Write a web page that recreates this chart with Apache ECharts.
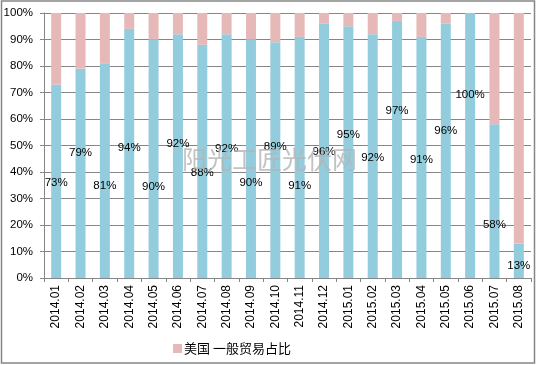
<!DOCTYPE html>
<html>
<head>
<meta charset="utf-8">
<script src="https://cdn.jsdelivr.net/npm/echarts@6/dist/echarts.min.js"></script>
<style>
html,body{margin:0;padding:0;background:#fff;}
#chart{width:536px;height:365px;}
</style>
</head>
<body>
<div id="chart"></div>
<script>
var categories = ['2014.01','2014.02','2014.03','2014.04','2014.05','2014.06','2014.07','2014.08','2014.09','2014.10','2014.11','2014.12','2015.01','2015.02','2015.03','2015.04','2015.05','2015.06','2015.07','2015.08'];
var usShare = [73, 79, 81, 94, 90, 92, 88, 92, 90, 89, 91, 96, 95, 92, 97, 91, 96, 100, 58, 13];
var otherShare = [27, 21, 19, 6, 10, 8, 12, 8, 10, 11, 9, 4, 5, 8, 3, 9, 4, 0, 42, 87];
var yTicks = [0, 10, 20, 30, 40, 50, 60, 70, 80, 90, 100];
var seriesName = '美国 一般贸易占比';
// label nudges (styling, px) reproducing the hand-placed labels of the reference
var labelShift = [2, -20, 15, -6, 28, -12, 11, -7, 24, -13, 28, 1, -17, 2, -39, 2, -20, -51, 24, 5];

var FONT = '"Liberation Sans", Arial, sans-serif';
var CJK = '"Noto Sans CJK SC", sans-serif';
var GRID_COLOR = '#868686';

var blueData = usShare.map(function (v, i) {
  return { value: v, label: { offset: [0, labelShift[i]] } };
});

var chart = echarts.init(document.getElementById('chart'), null, { renderer: 'canvas' });
chart.setOption({
  animation: false,
  backgroundColor: '#fff',
  grid: { left: 44, right: 5, top: 13, bottom: 87, containLabel: false },
  legend: {
    data: [seriesName],
    left: 168,
    top: 337,
    itemWidth: 9,
    itemHeight: 9,
    icon: 'rect',
    textStyle: { fontFamily: CJK, fontSize: 13, color: '#000', padding: [0, 0, 0, -3] }
  },
  xAxis: {
    type: 'category',
    data: categories,
    boundaryGap: true,
    axisLine: { lineStyle: { color: GRID_COLOR, width: 1 } },
    axisTick: { show: true, interval: 0, length: 4, lineStyle: { color: GRID_COLOR } },
    axisLabel: {
      interval: 0, rotate: 90, margin: 7,
      fontFamily: FONT, fontSize: 12, color: '#000'
    },
    splitLine: { show: false }
  },
  yAxis: {
    type: 'value',
    min: yTicks[0],
    max: yTicks[yTicks.length - 1],
    interval: yTicks[1] - yTicks[0],
    axisLine: { show: true, lineStyle: { color: GRID_COLOR, width: 1 } },
    axisTick: { show: true, length: 4, lineStyle: { color: GRID_COLOR } },
    axisLabel: { formatter: '{value}%', margin: 11, fontFamily: FONT, fontSize: 11.5, color: '#000' },
    splitLine: { show: true, lineStyle: { color: GRID_COLOR, width: 1 } }
  },
  series: [
    {
      name: '其他',
      type: 'bar',
      stack: 'total',
      barWidth: 10,
      itemStyle: { color: '#93CDDD' },
      label: {
        show: true, position: 'inside', formatter: '{c}%',
        fontFamily: FONT, fontSize: 11.5, color: '#000'
      },
      data: blueData
    },
    {
      name: seriesName,
      type: 'bar',
      stack: 'total',
      barWidth: 10,
      itemStyle: { color: '#E6B9B8' },
      data: otherShare
    }
  ],
  graphic: [
    {
      type: 'rect',
      shape: { x: 1.5, y: 1, width: 533, height: 362 },
      style: { fill: 'none', stroke: GRID_COLOR, lineWidth: 1.5 },
      silent: true, z: 10
    },
    {
      type: 'text',
      left: 182, top: 147,
      style: { text: '阳光工匠光伏网', font: '25px ' + CJK, fill: 'rgba(180,180,180,0.8)' },
      silent: true, z: 5
    }
  ]
});
</script>
</body>
</html>
